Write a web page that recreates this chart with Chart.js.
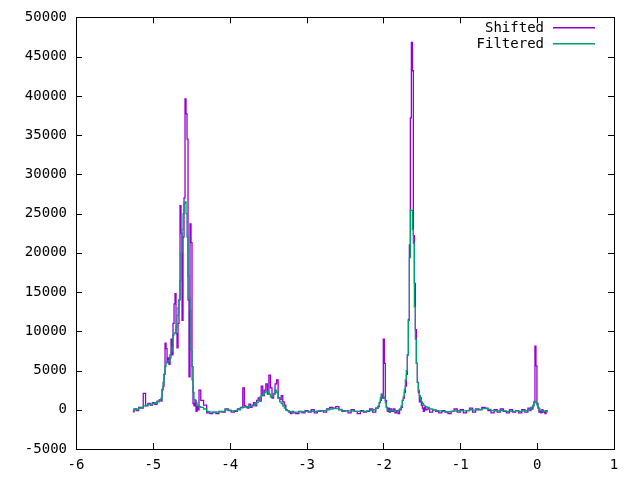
<!DOCTYPE html>
<html>
<head>
<meta charset="utf-8">
<script src="https://cdn.jsdelivr.net/npm/chart.js@4.4.1/dist/chart.umd.min.js"></script>
<style>
  html, body { margin: 0; padding: 0; background: #fff; }
  #wrap { width: 640px; height: 480px; }
</style>
</head>
<body>
<div id="wrap"><canvas id="myChart" width="640" height="480"></canvas></div>
<script>
// x positions (ppm-like axis), denser where the peaks are
const xs = [
  -5.26, -5.23, -5.20, -5.17, -5.14, -5.11, -5.08, -5.05, -5.02, -4.99, -4.96, -4.93,
  -4.900, -4.887, -4.874, -4.861, -4.848, -4.835, -4.822, -4.809, -4.796, -4.783,
  -4.770, -4.757, -4.744, -4.731, -4.718, -4.705, -4.692, -4.679, -4.666, -4.653,
  -4.640, -4.627, -4.614, -4.601, -4.588, -4.575, -4.562, -4.549, -4.536, -4.523,
  -4.510, -4.497, -4.484, -4.471, -4.458, -4.445, -4.432, -4.419, -4.406, -4.393,
  -4.36, -4.32, -4.28, -4.24, -4.20, -4.16, -4.12, -4.08, -4.04, -4.00, -3.96, -3.92, -3.88,
  -3.84, -3.82, -3.80, -3.78, -3.76, -3.74, -3.72, -3.70, -3.68, -3.66, -3.64, -3.62,
  -3.60, -3.58, -3.56, -3.54, -3.52, -3.50, -3.48, -3.46, -3.44, -3.42, -3.40, -3.38,
  -3.36, -3.34, -3.32, -3.30, -3.28, -3.26, -3.24, -3.22, -3.20, -3.18, -3.16,
  -3.12, -3.08, -3.04, -3.00, -2.96, -2.92, -2.88, -2.84, -2.80, -2.76, -2.72, -2.68,
  -2.64, -2.60, -2.56, -2.52, -2.48, -2.44, -2.40, -2.36, -2.32, -2.28, -2.24, -2.20,
  -2.16, -2.12, -2.08,
  -2.060, -2.047, -2.034, -2.021, -2.008, -1.995, -1.982, -1.969, -1.956, -1.943, -1.930, -1.917, -1.904,
  -1.88, -1.86, -1.84, -1.82, -1.80, -1.78,
  -1.760, -1.747, -1.734, -1.721, -1.708, -1.695, -1.682, -1.669, -1.656, -1.643,
  -1.630, -1.617, -1.604, -1.591, -1.578, -1.565, -1.552, -1.539, -1.526, -1.513,
  -1.500, -1.487, -1.474, -1.461, -1.448,
  -1.42, -1.38, -1.34, -1.30, -1.26, -1.22, -1.18, -1.14, -1.10, -1.06, -1.02, -0.98,
  -0.94, -0.90, -0.86, -0.82, -0.78, -0.74, -0.70, -0.66, -0.62, -0.58, -0.54, -0.50,
  -0.46, -0.42, -0.38, -0.34, -0.30, -0.26, -0.22, -0.18, -0.14, -0.10,
  -0.087, -0.074, -0.061, -0.048, -0.035, -0.022, -0.009, 0.004, 0.017, 0.030,
  0.043, 0.056, 0.069, 0.082, 0.095, 0.108, 0.121, 0.134
];

const shifted = [
  -250, 100, -100, 300, 200, 2100, 500, 800, 600, 900, 700, 1100,
  1300, 1100, 2600, 3000, 4500, 8500, 7800, 6000, 6600, 5800,
  7000, 9000, 7000, 11000, 13500, 14800, 9700, 7900, 11000, 14000,
  26000, 22500, 11400, 22000, 27000, 39600, 37700, 34500, 14000, 4200,
  23700, 21300, 5500, 800, 500, 1200, -200, 400, 0, 2500,
  1200, 600, -400, -500, -300, -500, -200, -300, 100, -100, -300, -200, 100,
  300, 2800, 500, 400, 200, 700, 300, 600, 900, 500, 1200, 1500,
  1100, 3000, 1800, 2500, 3300, 2000, 4400, 2800, 1500, 2000, 3300, 3800,
  1500, 1300, 1800, 1000, 600, 0, -100, -300, -500, -200, -400,
  -500, -200, -400, -100, -300, 0, -400, -200, -100, -300, 100, 300,
  200, 400, 0, -200, -100, -400, 0, -200, -500, -100, -300, -200,
  100, -300, 200,
  400, 900, 1200, 2000, 1500, 9000, 5900, 1200, 300, -200, 200, -300, 100,
  -200, 100, -400, -100, -500, 0,
  300, 1200, 1500, 2200, 3000, 4500, 7000, 11500, 21000, 37200,
  46800, 43200, 22200, 16100, 10200, 5900, 3500, 2200, 1000, 1500,
  600, 200, -200, 300, 0,
  100, -300, 0, -200, -400, -100, -300, -500, -200, 100, -300, 0,
  -400, -100, 200, -300, 100, 0, 300, 200, -100, -400, 0, -300,
  100, -200, -400, 0, -300, -100, -400, 0, -300, 200,
  -100, 300, 100, 500, 900, 8100, 5600, 800, 200, -300,
  -100, -400, 0, -300, -200, -500, -100, -300
];

const filtered = [
  -150, 0, 100, 200, 300, 500, 600, 700, 700, 800, 900, 1000,
  1270, 1500, 2500, 3500, 4500, 5500, 6000, 6100, 6200, 6300,
  6600, 7500, 8000, 9500, 9800, 9800, 10500, 12000, 13000, 14000,
  16500, 20000, 23000, 25000, 26300, 26500, 25000, 22000, 17000, 14300,
  12700, 7600, 3800, 2200, 1300, 1200, 900, 600, 500, 400,
  300, 100, -200, -300, -350, -300, -250, -200, 0, -50, -150, -100, 0,
  250, 300, 350, 350, 400, 450, 500, 500, 600, 700, 900, 1200,
  1600, 1800, 2000, 2200, 2300, 2300, 2000, 1600, 1700, 2100, 2500, 2200,
  1500, 1000, 800, 500, 200, 0, -100, -200, -250, -300, -300,
  -300, -250, -250, -200, -200, -200, -200, -150, -150, -100, 0, 100,
  150, 150, 50, -100, -150, -150, -150, -200, -200, -200, -200, -150,
  -100, 0, 200,
  500, 900, 1500, 1900, 1900, 1600, 1500, 900, 300, 0, -100, -100, -50,
  -100, -100, -150, -100, -50, 100,
  500, 1200, 1700, 2600, 3800, 5000, 7000, 11400, 19400, 25400,
  25400, 23000, 21200, 13100, 9000, 5900, 3500, 2500, 1800, 1300,
  1000, 800, 600, 500, 400,
  300, 100, 0, -100, -150, -200, -250, -250, -200, -150, -100, -100,
  -150, -100, 0, -50, 0, 50, 150, 150, 50, -100, -150, -150,
  -100, -150, -200, -200, -200, -150, -200, -150, -100, 0,
  100, 200, 300, 600, 1050, 1000, 900, 600, 300, 100,
  -100, -100, -100, -150, -200, -200, -150, -200
];

const seriesNames = ["Shifted", "Filtered"];
const seriesColors = ["#9400d3", "#009e73"];

const FONT = "DejaVu Sans Mono";

function toPoints(ys) {
  return xs.map((x, i) => ({ x: x, y: ys[i] }));
}

// gnuplot-like frame: box border, inward ticks on all four sides, legend inside top right
const gnuFrame = {
  id: "gnuFrame",
  afterDraw: (chart) => {
    const { ctx, chartArea: a, scales } = chart;
    ctx.save();
    ctx.strokeStyle = "#000";
    ctx.lineWidth = 1;
    ctx.beginPath();
    const tl = 6;
    scales.x.ticks.forEach((t) => {
      const px = Math.round(scales.x.getPixelForValue(t.value)) + 0.5;
      ctx.moveTo(px, a.bottom);
      ctx.lineTo(px, a.bottom - tl);
      ctx.moveTo(px, a.top);
      ctx.lineTo(px, a.top + tl);
    });
    scales.y.ticks.forEach((t) => {
      const py = Math.round(scales.y.getPixelForValue(t.value)) + 0.5;
      ctx.moveTo(a.left, py);
      ctx.lineTo(a.left + tl, py);
      ctx.moveTo(a.right, py);
      ctx.lineTo(a.right - tl, py);
    });
    ctx.stroke();
    ctx.strokeRect(Math.round(a.left) + 0.5, Math.round(a.top) + 0.5,
      Math.round(a.right - a.left), Math.round(a.bottom - a.top));

    // legend
    ctx.font = "14px '" + FONT + "'";
    ctx.textAlign = "right";
    ctx.textBaseline = "middle";
    seriesNames.forEach((name, i) => {
      const y = 28 + i * 16;
      ctx.fillStyle = "#000";
      ctx.fillText(name, a.right - 70, y);
      ctx.fillStyle = seriesColors[i];
      ctx.fillRect(a.right - 61, y - 1, 42, 1.5);
    });
    ctx.restore();
  },
};

const ctx = document.getElementById("myChart");

var chart = new Chart(ctx, {
  type: "line",
  data: {
    datasets: [
      {
        label: seriesNames[0],
        data: toPoints(shifted),
        borderColor: seriesColors[0],
        borderWidth: 1.3,
        pointRadius: 0,
        stepped: "middle",
        fill: false,
        order: 2,
      },
      {
        label: seriesNames[1],
        data: toPoints(filtered),
        borderColor: seriesColors[1],
        borderWidth: 1.3,
        pointRadius: 0,
        stepped: "middle",
        fill: false,
        order: 1,
      },
    ],
  },
  options: {
    responsive: false,
    animation: false,
    layout: { padding: { left: 0, right: 26, top: 15, bottom: 0 } },
    plugins: {
      legend: { display: false },
      tooltip: { enabled: false },
    },
    scales: {
      x: {
        type: "linear",
        min: -6,
        max: 1,
        grid: { display: false, drawTicks: false },
        border: { display: false },
        ticks: {
          stepSize: 1,
          color: "#000",
          padding: 8,
          maxRotation: 0,
          font: { family: FONT, size: 14 },
          callback: (v) => String(v),
        },
        afterFit: (s) => { s.height = 31; },
      },
      y: {
        min: -5000,
        max: 50000,
        grid: { display: false, drawTicks: false },
        border: { display: false },
        ticks: {
          stepSize: 5000,
          color: "#000",
          padding: 9,
          font: { family: FONT, size: 14 },
          callback: (v) => String(v),
        },
        afterFit: (s) => { s.width = 76; },
      },
    },
  },
  plugins: [gnuFrame],
});
</script>
</body>
</html>
